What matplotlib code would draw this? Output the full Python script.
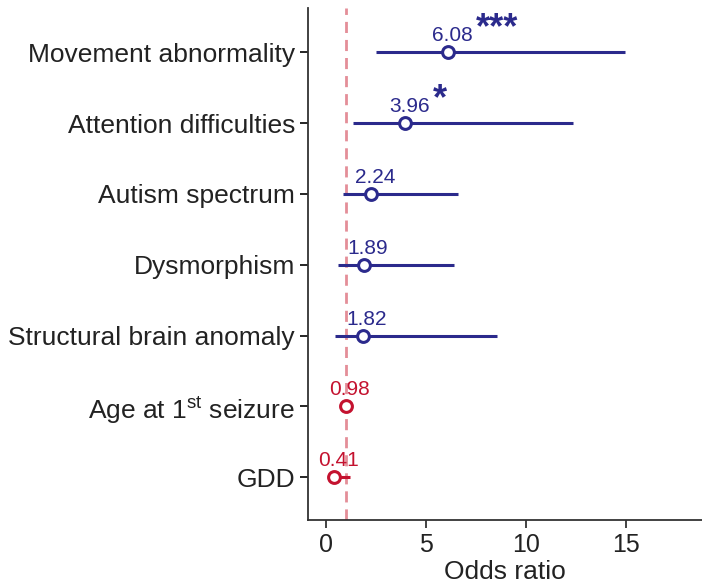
import matplotlib.pyplot as plt

plt.rcParams['font.family'] = ['Liberation Sans', 'DejaVu Sans']
plt.rcParams['mathtext.fontset'] = 'custom'
plt.rcParams['mathtext.rm'] = 'Liberation Sans'

# Data
labels = ['Movement abnormality', 'Attention difficulties', 'Autism spectrum',
          'Dysmorphism', 'Structural brain anomaly',
          'Age at 1$^{\\mathrm{st}}$ seizure', 'GDD']
odds = [6.08, 3.96, 2.24, 1.89, 1.82, 0.98, 0.41]
ci_low = [2.5, 1.33, 0.83, 0.6, 0.43, 0.96, 0.15]
ci_high = [14.95, 12.33, 6.57, 6.4, 8.57, 1.0, 1.2]
stars = ['***', '*', '', '', '', '', '']
odds_labels = ['6.08', '3.96', '2.24', '1.89', '1.82', '0.98', '0.41']

BLUE = '#2b2a8c'
RED = '#c4122f'
colors = [BLUE if o > 1 else RED for o in odds]

fig = plt.figure(figsize=(7.02, 5.88), dpi=100)
ax = fig.add_axes([0.439, 0.116, 0.561, 0.870])

ypos = list(range(len(labels)))[::-1]

ax.axvline(1, color='#e48e98', lw=2, ls=(0, (4, 2.5)), zorder=1)

for y, o, lo, hi, c, lab, st in zip(ypos, odds, ci_low, ci_high, colors, odds_labels, stars):
    ax.plot([lo, hi], [y, y], color=c, lw=2.2, solid_capstyle='butt', zorder=2)
    ax.plot(o, y, 'o', ms=8.5, mfc='white', mec=c, mew=2.2, zorder=3)
    ax.annotate(lab, (o, y), xytext=(3, 5), textcoords='offset points',
                ha='center', va='bottom', fontsize=15, color=c)
    if st:
        ax.annotate(st, (o, y), xytext=(20, 10), textcoords='offset points',
                    ha='left', va='baseline', fontsize=26, color=c,
                    fontweight='bold')

ax.set_yticks(ypos)
ax.set_yticklabels(labels, fontsize=19, color='#222222')
ax.set_xticks([0, 5, 10, 15])
ax.tick_params(axis='x', labelsize=18, colors='#222222', length=6, width=1.2)
ax.tick_params(axis='y', length=6, width=1.2)
ax.set_xlim(-0.9, 18.8)
ax.set_ylim(-0.6, 6.62)
ax.set_xlabel('Odds ratio', fontsize=19, color='#222222', labelpad=2)

for side in ['top', 'right']:
    ax.spines[side].set_visible(False)
for side in ['left', 'bottom']:
    ax.spines[side].set_linewidth(1.3)
    ax.spines[side].set_color('#333333')

fig.savefig('out.png', dpi=100)
